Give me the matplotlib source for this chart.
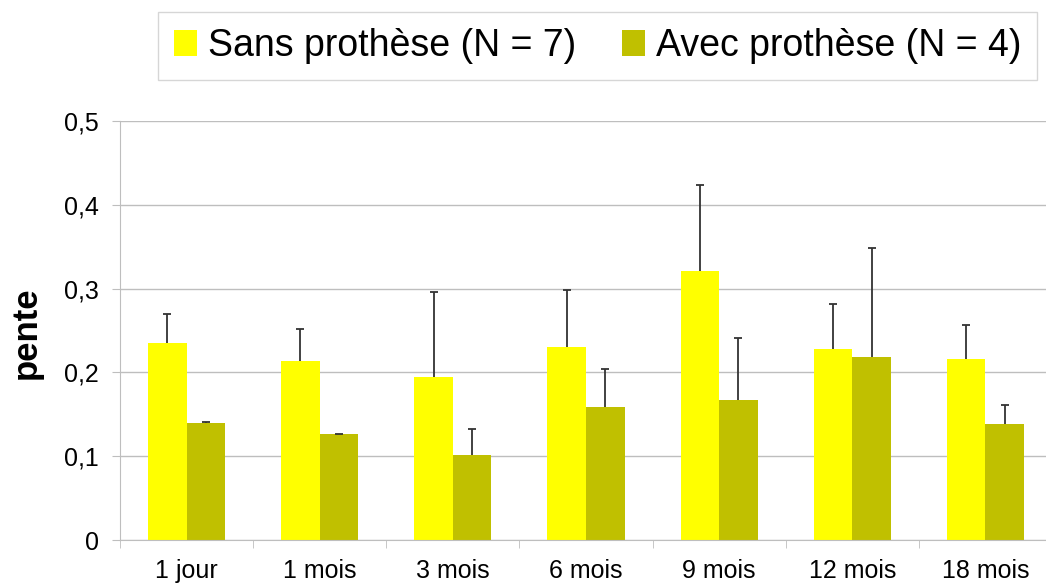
import matplotlib.pyplot as plt
import numpy as np

plt.rcParams['font.family'] = ['Liberation Sans', 'DejaVu Sans']

periodes = ["1 jour", "1 mois", "3 mois", "6 mois", "9 mois", "12 mois", "18 mois"]
sans_moy = [0.235, 0.214, 0.194, 0.230, 0.321, 0.228, 0.216]
sans_et = [0.035, 0.038, 0.102, 0.068, 0.103, 0.054, 0.040]
avec_moy = [0.140, 0.126, 0.101, 0.159, 0.167, 0.218, 0.138]
avec_et = [0.001, 0.001, 0.031, 0.045, 0.074, 0.130, 0.023]

jaune = "#FFFF00"
olive = "#C0C000"
gris = "#BEBEBE"

fig = plt.figure(figsize=(10.46, 5.88), dpi=100)
ax = fig.add_axes([120 / 1046, 1 - 540 / 588, 932 / 1046, 419 / 588])

x = np.arange(len(periodes))
w = 0.29
b1 = ax.bar(x - w / 2, sans_moy, w, color=jaune, label="Sans prothèse (N = 7)", zorder=2)
b2 = ax.bar(x + w / 2, avec_moy, w, color=olive, label="Avec prothèse (N = 4)", zorder=2)

# barres d'erreur vers le haut seulement
for pos, moy, et in [(x - w / 2, sans_moy, sans_et), (x + w / 2, avec_moy, avec_et)]:
    _, caps, _ = ax.errorbar(pos, moy, yerr=[np.zeros(len(x)), et], fmt="none",
                             ecolor="#333333", elinewidth=1.3, capsize=3.2,
                             capthick=1.3, zorder=3)
    caps[0].set_visible(False)

ax.set_xlim(-0.5, len(periodes) - 0.5)
ax.set_ylim(0, 0.5)
ax.set_yticks(np.arange(0, 0.51, 0.1))
ax.set_yticklabels(["0", "0,1", "0,2", "0,3", "0,4", "0,5"])
ax.yaxis.grid(True, color=gris, linewidth=1, zorder=0)
ax.set_axisbelow(True)

ax.set_xticks(x)
ax.set_xticklabels(periodes)
ax.set_xticks(np.arange(-0.5, len(periodes), 1), minor=True)
ax.tick_params(axis="x", which="major", length=0, pad=14, labelsize=18)
ax.tick_params(axis="x", which="minor", length=6, color=gris, direction="out")
ax.tick_params(axis="y", length=6, color=gris, pad=9, labelsize=18)

for s in ["top", "right"]:
    ax.spines[s].set_visible(False)
for s in ["left", "bottom"]:
    ax.spines[s].set_color(gris)

fig.text(10 / 1046, 1 - 333 / 588, "pente", rotation=90, fontsize=25,
         fontweight="bold", va="center", ha="left")

leg = fig.legend(handles=[b1, b2], loc="upper left",
                 bbox_to_anchor=(158 / 1046, 1 - 12 / 588), ncol=2, fontsize=27,
                 frameon=True, fancybox=False, edgecolor="#CCCCCC",
                 handlelength=0.62, handleheight=0.7, handletextpad=0.3,
                 columnspacing=1.2, borderpad=0.42, borderaxespad=0)
leg.get_frame().set_linewidth(1)

fig.savefig("out.png", dpi=100)
